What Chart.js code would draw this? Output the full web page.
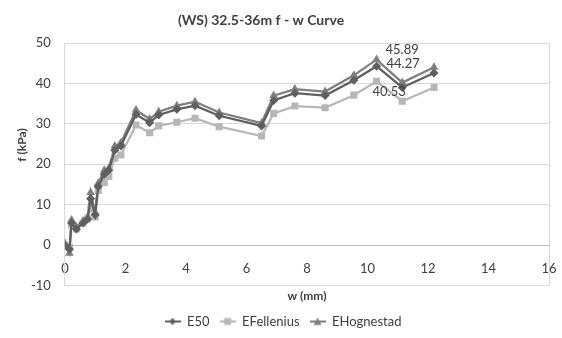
<!DOCTYPE html>
<html>
<head>
<meta charset="utf-8">
<script src="https://cdn.jsdelivr.net/npm/chart.js@4.4.1/dist/chart.umd.min.js"></script>
<style>
  html, body { margin: 0; padding: 0; background: #fff; }
  #wrap { width: 562px; height: 338px; }
</style>
</head>
<body>
<div id="wrap"><canvas id="fwChart"></canvas></div>
<script>
// w (mm) readings shared by all three curves
const wValues = [0, 0.15, 0.22, 0.38, 0.6, 0.75, 0.85, 1.0, 1.1, 1.3, 1.45, 1.65, 1.85,
    2.35, 2.8, 3.1, 3.7, 4.3, 5.1, 6.5, 6.9, 7.6, 8.6, 9.55, 10.3, 11.15, 12.2];

// f (kPa) per method
const e50 = [0, -1, 5.5, 4, 5.5, 6.5, 11.5, 7.5, 14.5, 17.5, 18.5, 23.5, 24.5,
    32.3, 30.3, 32.2, 33.6, 34.5, 32, 29.5, 35.8, 37.6, 37, 40.8, 44.27, 39, 42.6];
const eFellenius = [0, -0.5, 5, 4, 5.5, 6.5, 9, 7, 13.5, 15.5, 17, 21.5, 22.3,
    29.7, 27.8, 29.5, 30.4, 31.4, 29.3, 27, 32.6, 34.4, 34, 37.1, 40.53, 35.6, 39];
const eHognestad = [0.5, -2, 6.2, 4.5, 6, 7, 13, 8, 15.3, 18.5, 19, 24.5, 25.3,
    33.4, 31.2, 33, 34.5, 35.5, 32.8, 30.2, 37, 38.6, 38, 42, 45.89, 40.2, 44];

const seriesNames = ['E50', 'EFellenius', 'EHognestad'];
const xTicks = [0, 2, 4, 6, 8, 10, 12, 14, 16];
const yTicks = [-10, 0, 10, 20, 30, 40, 50];
const labelIndex = 24; // point carrying the value labels

const colors = ['#5f5f5f', '#b7b7b7', '#7f7f7f'];
const markers = ['rectRot', 'rect', 'triangle'];
const markerSize = [4.5, 5, 5];

function toPoints(vals) {
    return vals.map((v, i) => ({ x: wValues[i], y: v }));
}

// little line + marker icons for the legend, like Excel draws them
function makeIcon(color, style) {
    const c = document.createElement('canvas');
    c.width = 16; c.height = 10;
    const g = c.getContext('2d');
    g.strokeStyle = color; g.fillStyle = color; g.lineWidth = 2;
    g.beginPath(); g.moveTo(0, 5); g.lineTo(16, 5); g.stroke();
    g.beginPath();
    if (style === 'rectRot') {
        g.moveTo(8, 1.5); g.lineTo(11.5, 5); g.lineTo(8, 8.5); g.lineTo(4.5, 5);
    } else if (style === 'rect') {
        g.rect(4.5, 1.5, 7, 7);
    } else {
        g.moveTo(8, 1); g.lineTo(12, 8.5); g.lineTo(4, 8.5);
    }
    g.closePath(); g.fill();
    return c;
}
const legendIcons = colors.map((c, i) => makeIcon(c, markers[i]));

const textPlugin = {
    id: 'textPlugin',
    afterDraw(chart) {
        const ctx = chart.ctx;
        ctx.save();
        ctx.fillStyle = '#404040';
        ctx.font = 'bold 14px Lato';
        ctx.textAlign = 'center';
        ctx.textBaseline = 'middle';
        ctx.fillText('(WS) 32.5-36m f - w Curve', 261, 20);

        // y axis title
        ctx.save();
        ctx.translate(22, 145);
        ctx.rotate(-Math.PI / 2);
        ctx.font = 'bold 12px Lato';
        ctx.fillText('f (kPa)', 0, 0);
        ctx.restore();

        // value labels at the peak
        ctx.font = '13px Lato';
        ctx.textAlign = 'left';
        const offs = [[10, -2], [-4, 11], [9, -10]];
        chart.data.datasets.forEach((ds, i) => {
            const pt = chart.getDatasetMeta(i).data[labelIndex];
            ctx.fillText(ds.data[labelIndex].y.toFixed(2), pt.x + offs[i][0], pt.y + offs[i][1]);
        });
        ctx.restore();
    }
};

const ctx = document.getElementById('fwChart').getContext('2d');
const fwChart = new Chart(ctx, {
    type: 'line',
    data: {
        datasets: [e50, eFellenius, eHognestad].map((vals, i) => ({
            label: seriesNames[i],
            data: toPoints(vals),
            borderColor: colors[i],
            backgroundColor: colors[i],
            borderWidth: 2.25,
            pointStyle: markers[i],
            pointRadius: markerSize[i],
            pointBorderWidth: 0,
            tension: 0,
        })),
    },
    options: {
        responsive: true,
        maintainAspectRatio: false,
        animation: false,
        layout: { padding: { top: 43, left: 17, right: 13, bottom: 0 } },
        plugins: {
            tooltip: { enabled: false },
            title: { display: false },
            subtitle: {
                display: true,
                text: 'w (mm)',
                position: 'bottom',
                fullSize: false,
                weight: 500,
                color: '#404040',
                font: { family: 'Lato', size: 12, weight: 'bold' },
                padding: { top: 3, bottom: 2 },
            },
            legend: {
                display: true,
                position: 'bottom',
                labels: {
                    color: '#404040',
                    font: { family: 'Lato', size: 13 },
                    usePointStyle: true,
                    pointStyleWidth: 16,
                    padding: 10,
                    generateLabels(chart) {
                        const items = Chart.defaults.plugins.legend.labels.generateLabels(chart);
                        items.forEach((item, i) => { item.pointStyle = legendIcons[i]; });
                        return items;
                    },
                },
            },
        },
        scales: {
            x: {
                type: 'linear',
                position: { y: 0 },
                min: 0,
                max: 16,
                afterBuildTicks(scale) { scale.ticks = xTicks.map(v => ({ value: v })); },
                ticks: { color: '#404040', font: { family: 'Lato', size: 13 }, padding: 0 },
                grid: {
                    drawTicks: true,
                    tickLength: 16,
                    tickColor: 'rgba(0,0,0,0)',
                    color: c => (c.tick && c.tick.value === 16 ? '#d9d9d9' : 'rgba(0,0,0,0)'),
                },
                border: { color: '#bfbfbf' },
            },
            y: {
                min: -10,
                max: 50,
                afterBuildTicks(scale) { scale.ticks = yTicks.map(v => ({ value: v })); },
                ticks: { color: '#404040', font: { family: 'Lato', size: 13 }, padding: 14 },
                grid: { drawTicks: false, color: '#d9d9d9' },
                border: { color: '#d9d9d9' },
            },
        },
    },
    plugins: [textPlugin],
});
</script>
</body>
</html>
